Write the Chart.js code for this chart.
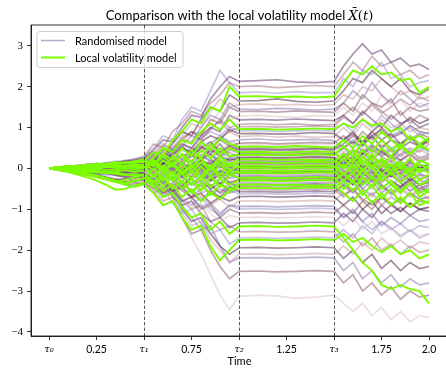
<!DOCTYPE html>
<html><head><meta charset="utf-8">
<script src="https://cdn.jsdelivr.net/npm/chart.js@4/dist/chart.umd.min.js"></script>
<style>html,body{margin:0;padding:0;overflow:hidden;background:#fff}#wrap{width:452px;height:369px;position:relative}</style>
</head><body><div id="wrap"><canvas id="c"></canvas></div>
<script>
const times = [0,.05,.1,.15,.2,.25,.3,.35,.4,.45,.5,.55,.6,.65,.7,.75,.8,.85,.9,.95,1,1.1,1.2,1.3,1.4,1.5,1.55,1.6,1.65,1.7,1.75,1.8,1.85,1.9,1.95,2];
const xTickValues = [0,0.25,0.5,0.75,1,1.25,1.5,1.75,2];
const xTickLabels = ['τ₀','0.25','τ₁','0.75','τ₂','1.25','τ₃','1.75','2.0'];
const yTickValues = [-4,-3,-2,-1,0,1,2,3];
const yTickLabels = ['−4','−3','−2','−1','0','1','2','3'];
const markerTimes = [0.5,1.0,1.5];

const randomisedPaths = [
[0,.03,.06,.05,.1,.12,.1,.15,.18,.2,.25,.45,.7,.65,1,1.3,1.25,1.7,2,2.25,2.13,2.15,2.17,2.12,2.1,2.13,2.5,2.8,3.05,2.8,2.9,2.6,2.7,2.5,2.55,2.42],
[0,-.02,.04,.08,.06,.1,.14,.12,.2,.22,.3,.6,.5,.9,1.1,1.4,1.3,1.6,1.8,2.1,2,2.02,1.98,2,2.03,2,2.3,2.6,2.4,2.75,2.5,2.6,2.3,2.4,2.2,2.3],
[0,.04,.02,.07,.1,.08,.14,.18,.16,.24,.28,.5,.8,.7,1.2,1.5,1.4,1.9,2.4,2.1,1.85,1.87,1.84,1.88,1.85,1.86,2.2,2,2.4,2.3,2.6,2.2,2.3,2,2.1,2.15],
[0,.02,-.03,.04,.08,.05,.1,.08,.12,.18,.2,.4,.3,.6,.9,.8,1.2,1.5,1.4,1.8,1.65,1.66,1.7,1.64,1.62,1.65,1.9,2.2,2.1,2.4,2.2,2,2.2,1.9,1.8,1.95],
[0,.03,.05,.02,.06,.1,.07,.12,.15,.13,.18,.3,.55,.5,.8,1.1,1,1.4,1.7,1.5,1.56,1.58,1.55,1.57,1.54,1.56,1.8,1.7,2,1.9,2.2,2,1.8,1.9,1.7,1.75],
[0,-.03,.01,.05,.03,.08,.1,.06,.11,.14,.16,.35,.2,.5,.7,.65,1,1.3,1.2,1.6,1.45,1.44,1.47,1.46,1.43,1.45,1.6,1.9,1.7,2.1,1.8,1.6,1.9,1.7,1.5,1.6],
[0,.02,.04,.01,.05,.07,.04,.09,.12,.1,.14,.2,.45,.4,.7,.9,.8,1.2,1.1,1.5,1.39,1.4,1.38,1.41,1.39,1.37,1.6,1.4,1.8,1.6,1.5,1.7,1.3,1.5,1.4,1.45],
[0,-.02,.02,0,.04,.07,.05,.1,.08,.13,.12,.3,.5,.35,.6,.9,.85,1.1,1.4,1.2,1.28,1.3,1.27,1.25,1.29,1.28,1.5,1.3,1.6,1.4,1.8,1.5,1.7,1.4,1.6,1.5],
[0,.03,.01,.05,.04,.08,.06,.1,.09,.07,.11,.25,.15,.4,.6,.5,.8,1,.9,1.3,1.19,1.2,1.18,1.21,1.19,1.17,1.3,1.1,1.4,1.2,1,1.3,1.1,1.2,1,1.1],
[0,.01,-.03,.02,.05,.03,.07,.05,.1,.12,.1,.2,.4,.3,.55,.8,.7,.95,1.2,1,1.08,1.1,1.07,1.09,1.06,1.08,1.3,1.5,1.3,1.6,1.4,1.2,1.4,1.1,1.3,1.2],
[0,.02,.05,.03,.07,.05,.09,.12,.1,.14,.15,.3,.2,.45,.6,.5,.75,.9,.8,1,.92,.93,.9,.92,.94,.91,1.1,.9,1.2,1,1.3,1.1,.9,1,.8,.9],
[0,-.02,.01,-.01,.03,.06,.04,.02,.06,.09,.08,.2,.1,.35,.5,.4,.65,.8,.7,.95,.85,.86,.84,.85,.88,.85,.7,.9,.6,.8,.5,.7,.6,.8,.6,.7],
[0,.02,0,.04,.02,.06,.03,.07,.05,.09,.06,.15,.3,.2,.45,.4,.6,.5,.75,.9,.78,.8,.77,.79,.76,.78,1,.8,1.1,.9,1.2,1,1.1,.9,1,.95],
[0,-.01,.03,.01,.05,.02,.06,.04,.08,.05,.07,.2,.1,.3,.25,.5,.4,.6,.8,.65,.7,.72,.69,.7,.71,.68,.5,.7,.4,.6,.35,.5,.3,.45,.25,.35],
[0,.02,-.02,.02,0,.04,.02,.06,.03,.07,.05,.1,.25,.15,.35,.3,.5,.45,.7,.55,.62,.63,.6,.62,.64,.62,.8,.6,.9,.7,1,.8,.9,.7,.85,.75],
[0,.01,.03,0,.04,.02,.05,.03,.06,.04,.08,.15,.05,.25,.2,.4,.3,.5,.45,.6,.52,.53,.5,.52,.54,.51,.3,.5,.2,.4,.1,.3,.15,.35,.2,.25],
[0,-.03,-.01,-.04,-.02,-.05,-.01,-.04,0,-.02,.02,.1,0,.2,.1,.3,.25,.45,.35,.5,.45,.46,.44,.45,.47,.45,.6,.8,.6,.9,.7,.85,.6,.75,.55,.65],
[0,.02,.04,.02,.05,.03,.07,.05,.09,.06,.1,.2,.05,.25,.15,.35,.2,.45,.3,.45,.38,.39,.37,.4,.38,.36,.2,.4,.1,.3,0,.2,-.1,.1,-.05,.05],
[0,-.02,0,-.03,.01,-.01,.02,0,.04,.02,.03,-.05,.1,0,.2,.15,.3,.2,.4,.25,.32,.33,.31,.32,.34,.32,.5,.3,.6,.4,.7,.5,.6,.4,.5,.45],
[0,.03,.01,.05,.03,.07,.04,.08,.05,.1,.07,.15,0,.1,-.05,.1,.2,.1,.3,.2,.27,.28,.26,.27,.29,.27,.1,.3,0,.2,-.1,.1,-.05,.15,0,.1],
[0,-.01,.02,0,.03,.01,.04,.02,.05,.03,.06,-.05,.1,-.1,.05,0,.15,.05,.25,.15,.22,.23,.21,.22,.24,.22,.4,.2,.5,.3,.6,.4,.5,.3,.45,.35],
[0,.02,-.01,.03,.01,.04,0,.03,.01,.05,.02,.1,-.05,.05,-.1,.1,0,.2,.1,.25,.17,.18,.16,.17,.19,.17,0,.2,-.1,.1,-.2,0,-.15,.05,-.1,0],
[0,-.02,-.04,-.01,-.03,0,-.02,.01,-.01,.02,0,.1,-.05,.05,.15,0,.1,-.05,.2,.05,.12,.13,.11,.12,.14,.12,.3,.1,.4,.2,.45,.3,.2,.35,.15,.25],
[0,.01,.03,.01,.04,.02,0,.03,.01,.04,.02,-.1,.05,-.05,.1,0,-.1,.05,-.05,.15,.08,.09,.07,.08,.1,.08,-.1,.1,-.2,0,-.3,-.1,-.25,-.05,-.2,-.15],
[0,-.02,0,-.03,-.01,-.04,-.02,-.05,-.03,-.01,-.04,.05,-.1,0,-.15,-.05,.1,-.05,.05,-.05,.04,.05,.03,.04,.06,.04,.2,0,.3,.1,.2,0,.15,-.05,.1,0],
[0,.02,0,.03,.05,.02,.04,.06,.03,.05,.08,-.05,.1,-.05,.05,-.1,.05,-.05,.1,-.05,0,.01,-.01,0,.02,0,-.2,0,-.3,-.1,-.35,-.15,-.3,-.1,-.25,-.2],
[0,-.01,.01,-.02,0,-.03,-.01,-.04,-.02,0,-.03,.1,-.05,.05,-.1,0,-.15,-.05,.05,-.1,-.05,-.04,-.06,-.05,-.03,-.05,.15,-.05,.2,0,.25,.05,.2,0,.1,.05],
[0,.02,.04,.02,.06,.04,.07,.05,.09,.07,.11,0,.15,-.05,.1,-.1,0,-.2,-.05,-.15,-.1,-.09,-.11,-.1,-.08,-.1,-.3,-.1,-.4,-.2,-.5,-.3,-.45,-.25,-.4,-.35],
[0,-.03,-.01,-.04,-.02,-.06,-.03,-.07,-.05,-.08,-.05,-.15,0,-.1,.05,-.1,-.2,-.05,-.25,-.1,-.15,-.14,-.16,-.15,-.13,-.15,0,-.2,.1,-.1,.15,-.05,.1,-.1,0,-.05],
[0,.01,-.02,0,-.03,-.01,-.04,-.02,-.05,-.03,-.06,.05,-.1,0,-.2,-.1,-.3,-.15,-.05,-.25,-.2,-.19,-.21,-.2,-.18,-.2,-.4,-.2,-.5,-.3,-.6,-.4,-.5,-.35,-.55,-.45],
[0,-.02,0,-.02,.01,-.01,.02,0,.03,.01,.04,-.1,.05,-.15,-.05,-.25,-.1,-.3,-.15,-.35,-.26,-.25,-.27,-.26,-.24,-.26,-.1,-.3,0,-.2,.1,-.1,.05,-.15,0,-.1],
[0,.02,.01,.04,.02,.05,.03,.01,.04,.02,.05,-.1,-.2,-.05,-.25,-.15,-.35,-.2,-.45,-.3,-.33,-.32,-.34,-.33,-.31,-.33,-.5,-.3,-.6,-.45,-.7,-.5,-.65,-.4,-.6,-.5],
[0,-.02,-.05,-.03,-.07,-.05,-.09,-.07,-.1,-.08,-.12,-.25,-.1,-.3,-.2,-.4,-.3,-.5,-.35,-.55,-.4,-.39,-.41,-.4,-.38,-.4,-.2,-.4,-.1,-.3,0,-.2,-.1,-.3,-.15,-.2],
[0,-.03,-.06,-.04,-.09,-.12,-.1,-.15,-.2,-.18,-.22,-.35,-.2,-.45,-.3,-.55,-.4,-.65,-.5,-.6,-.52,-.51,-.53,-.52,-.5,-.52,-.7,-.5,-.8,-.6,-.9,-.7,-.85,-.6,-.75,-.7],
[0,-.02,-.05,-.08,-.06,-.11,-.15,-.13,-.18,-.22,-.2,-.1,-.3,-.2,-.45,-.35,-.6,-.5,-.75,-.55,-.62,-.61,-.63,-.62,-.6,-.62,-.4,-.6,-.3,-.5,-.2,-.4,-.25,-.45,-.3,-.35],
[0,-.04,-.08,-.13,-.11,-.17,-.22,-.28,-.25,-.3,-.26,-.4,-.3,-.55,-.45,-.7,-.6,-.85,-.7,-.8,-.69,-.68,-.7,-.69,-.67,-.69,-.9,-.7,-1,-.8,-1.1,-.9,-1.05,-.85,-1,-.95],
[0,-.03,-.07,-.12,-.18,-.15,-.22,-.3,-.36,-.33,-.38,-.5,-.35,-.6,-.5,-.75,-.65,-.9,-.75,-.95,-.8,-.79,-.81,-.8,-.78,-.8,-.6,-.8,-.5,-.7,-.4,-.6,-.45,-.65,-.5,-.55],
[0,-.02,-.06,-.1,-.15,-.2,-.26,-.32,-.4,-.38,-.34,-.5,-.65,-.55,-.8,-.7,-.95,-.85,-1.1,-.9,-.93,-.92,-.94,-.93,-.91,-.93,-1.2,-1,-1.3,-1.1,-1.4,-1.2,-1.35,-1.15,-1.3,-1.25],
[0,-.03,-.05,-.09,-.14,-.19,-.24,-.3,-.34,-.3,-.28,-.45,-.6,-.5,-.8,-.7,-1,-.9,-1.2,-1,-1.09,-1.08,-1.1,-1.09,-1.07,-1.09,-.9,-1.1,-.8,-1,-.7,-.9,-.75,-.95,-.8,-.85],
[0,-.01,-.04,-.07,-.05,-.1,-.14,-.12,-.17,-.21,-.18,-.4,-.6,-.5,-.8,-.95,-.85,-1.1,-1.3,-1.15,-1.2,-1.19,-1.21,-1.2,-1.18,-1.2,-1.4,-1.2,-1.5,-1.3,-1.6,-1.45,-1.7,-1.5,-1.65,-1.6],
[0,-.02,-.06,-.04,-.09,-.13,-.1,-.16,-.2,-.24,-.2,-.45,-.35,-.7,-.9,-.8,-1.1,-1.3,-1.2,-1.45,-1.33,-1.32,-1.34,-1.33,-1.31,-1.33,-1.1,-1.3,-1,-1.2,-.9,-1.1,-.95,-1.15,-1,-1.05],
[0,-.03,-.01,-.05,-.08,-.06,-.11,-.15,-.12,-.17,-.14,-.35,-.55,-.45,-.8,-1,-.9,-1.3,-1.5,-1.4,-1.55,-1.54,-1.56,-1.55,-1.53,-1.55,-1.8,-1.6,-1.9,-1.7,-2,-1.85,-2.1,-1.9,-2.05,-2],
[0,-.02,-.05,-.09,-.13,-.18,-.24,-.3,-.37,-.43,-.4,-.6,-.5,-.85,-1.1,-1,-1.35,-1.6,-1.5,-1.85,-1.7,-1.69,-1.71,-1.7,-1.68,-1.7,-1.5,-1.7,-1.4,-1.6,-1.3,-1.5,-1.35,-1.55,-1.4,-1.45],
[0,-.01,-.04,-.02,-.06,-.1,-.08,-.13,-.17,-.15,-.2,-.4,-.7,-.6,-1,-1.3,-1.2,-1.6,-1.9,-2.1,-1.94,-1.93,-1.95,-1.94,-1.92,-1.94,-2.2,-2,-2.3,-2.1,-2.45,-2.25,-2.5,-2.3,-2.45,-2.4],
[0,-.03,-.07,-.11,-.16,-.21,-.27,-.33,-.38,-.35,-.3,-.55,-.8,-.7,-1.1,-1.4,-1.3,-1.75,-2,-2.3,-2.1,-2.09,-2.11,-2.1,-2.08,-2.1,-1.9,-2.1,-1.8,-2,-1.7,-1.9,-1.75,-1.95,-1.8,-1.85],
[0,-.02,0,-.03,-.06,-.04,-.08,-.11,-.09,-.13,-.1,-.3,-.6,-.5,-.9,-1.2,-1.5,-1.4,-1.9,-2.3,-2.19,-2.18,-2.2,-2.19,-2.17,-2.19,-2.5,-2.3,-2.7,-2.5,-2.8,-2.6,-2.9,-2.7,-2.85,-2.8],
[0,-.02,-.05,-.08,-.12,-.16,-.21,-.26,-.31,-.35,-.38,-.6,-.9,-.8,-1.2,-1.6,-1.5,-2,-2.4,-2.7,-2.52,-2.51,-2.53,-2.52,-2.5,-2.52,-2.8,-2.6,-3,-2.8,-3.1,-2.9,-3.2,-3,-3.15,-3.1],
[0,-.01,-.04,-.02,-.05,-.09,-.07,-.11,-.14,-.12,-.16,-.4,-.8,-.7,-1.2,-1.7,-2.1,-2.6,-3.1,-3.45,-3.13,-3.1,-3.12,-3.18,-3.15,-3.1,-3.3,-3.5,-3.3,-3.6,-3.4,-3.7,-3.5,-3.75,-3.6,-3.65],
[0,.02,.05,.04,.08,.11,.09,.13,.16,.19,.22,.1,.3,.45,.2,.4,.55,.35,.6,.3,.35,.36,.34,.35,.37,.35,.5,.65,.55,.8,.95,.75,.85,1.05,.9,.85],
[0,-.03,-.02,-.06,-.04,-.08,-.06,-.03,-.07,-.04,-.01,-.15,.05,.15,-.05,.2,.35,.15,.3,.4,.25,.26,.24,.25,.27,.25,.1,.05,.25,.45,.3,.15,.35,.5,.4,.6],
[0,.01,.04,.03,.06,.04,.08,.1,.07,.11,.13,.25,.1,.2,-.05,.1,.3,.2,.05,.25,.19,.2,.18,.19,.21,.19,-.05,-.15,.05,-.1,-.25,-.1,-.35,-.2,-.1,-.3],
[0,-.02,.01,.03,0,-.03,-.01,.02,-.02,-.05,-.02,.1,.25,.05,-.1,.05,.2,.35,.15,.05,.14,.15,.13,.14,.16,.14,.3,.45,.35,.55,.4,.25,.5,.65,.55,.7],
[0,.02,.03,.06,.04,.02,.05,.08,.05,.07,.04,-.05,-.2,0,.1,-.1,-.05,.15,0,.2,.1,.11,.09,.1,.12,.1,-.1,.05,-.2,-.35,-.15,-.3,-.45,-.3,-.5,-.4],
[0,-.01,-.04,-.02,-.05,-.08,-.06,-.03,-.06,-.09,-.07,.05,-.1,-.25,-.05,.1,-.1,.05,.2,0,.06,.07,.05,.06,.08,.06,.25,.1,.35,.5,.3,.45,.2,.35,.55,.4],
[0,.02,0,.03,.06,.09,.07,.05,.08,.11,.09,.2,0,.15,-.05,-.2,.05,-.1,.1,-.1,.02,.03,.01,.02,.04,.02,-.2,-.05,.1,-.1,-.3,-.15,0,-.2,-.4,-.25],
[0,-.02,-.05,-.03,-.06,-.04,-.07,-.1,-.08,-.05,-.08,-.2,0,-.15,.1,-.05,.15,-.1,-.25,-.05,-.02,-.01,-.03,-.02,0,-.02,.15,.3,.1,.25,.45,.2,.35,.15,.3,.2],
[0,.01,.03,.05,.03,.06,.04,.07,.09,.06,.08,-.1,.1,-.05,-.2,.05,-.15,-.3,-.1,.05,-.08,-.07,-.09,-.08,-.06,-.08,-.25,-.4,-.2,-.05,-.3,-.15,-.35,-.55,-.4,-.6],
[0,-.02,0,-.03,-.05,-.02,-.06,-.04,-.01,-.05,-.03,.1,-.1,.05,-.15,0,.15,-.05,-.2,-.05,-.12,-.11,-.13,-.12,-.1,-.12,.05,-.1,.1,.3,.15,0,.2,.35,.2,.3],
[0,.02,.05,.03,.07,.1,.08,.11,.14,.12,.09,-.05,-.2,0,-.25,-.1,.05,-.15,-.35,-.2,-.18,-.17,-.19,-.18,-.16,-.18,-.35,-.2,-.5,-.65,-.45,-.6,-.8,-.6,-.75,-.7],
[0,-.03,-.06,-.04,-.08,-.11,-.09,-.13,-.1,-.14,-.11,-.3,-.1,-.25,-.45,-.2,-.05,-.25,-.4,-.15,-.23,-.22,-.24,-.23,-.21,-.23,-.05,-.2,0,.15,-.05,-.2,.05,.2,0,.1],
[0,.01,-.01,.02,-.01,-.04,-.02,-.05,-.03,-.06,-.04,-.2,0,-.2,-.4,-.25,-.45,-.3,-.1,-.35,-.29,-.28,-.3,-.29,-.27,-.29,-.45,-.6,-.4,-.25,-.45,-.65,-.5,-.7,-.55,-.75],
[0,-.01,-.03,-.06,-.09,-.07,-.11,-.14,-.18,-.15,-.19,-.35,-.15,-.3,-.5,-.35,-.2,-.4,-.6,-.45,-.36,-.35,-.37,-.36,-.34,-.36,-.2,-.35,-.15,0,-.2,-.05,-.25,-.1,.05,-.05],
[0,.02,0,-.02,-.05,-.03,-.07,-.1,-.08,-.12,-.15,-.3,-.5,-.35,-.55,-.7,-.5,-.4,-.6,-.35,-.45,-.44,-.46,-.45,-.43,-.45,-.65,-.5,-.75,-.9,-.7,-.85,-1.05,-.85,-1,-.95],
[0,.01,.04,.07,.05,.09,.12,.15,.13,.17,.21,.35,.2,.4,.6,.45,.7,.5,.75,.65,.58,.59,.57,.58,.6,.58,.4,.55,.35,.2,.4,.25,.45,.3,.15,.3],
[0,-.03,-.07,-.05,-.1,-.14,-.12,-.17,-.21,-.19,-.24,-.4,-.25,-.5,-.35,-.6,-.8,-.55,-.7,-.45,-.57,-.56,-.58,-.57,-.55,-.57,-.4,-.55,-.35,-.2,-.4,-.6,-.45,-.3,-.5,-.4],
[0,.03,.06,.04,.08,.06,.1,.13,.11,.15,.18,.35,.6,.45,.75,.9,.7,1,1.15,.9,1.02,1.03,1.01,1.02,1.04,1.02,1.25,1.1,1.35,1.55,1.35,1.5,1.7,1.55,1.75,1.65],
[0,-.02,-.05,-.09,-.07,-.12,-.16,-.14,-.19,-.23,-.2,-.4,-.6,-.45,-.75,-.9,-.7,-1,-1.15,-.9,-.99,-.98,-1,-.99,-.97,-.99,-1.2,-1.05,-1.3,-1.5,-1.3,-1.45,-1.65,-1.5,-1.7,-1.6],
[0,-.02,.01,.04,.02,.05,.08,.06,.1,.13,.11,.3,.1,.35,.55,.3,.5,.65,.4,.55,.48,.49,.47,.48,.5,.48,.7,.85,.65,.9,1.1,.9,1.05,1.25,1.1,1.2]
];

const localVolPaths = [
[0,.02,.05,.03,.07,.1,.08,.12,.15,.13,.18,.4,.3,.7,.9,1.2,1.1,1.5,1.4,2,1.76,1.77,1.75,1.76,1.74,1.76,2.1,2.4,2.3,2.5,2.3,2.35,2.15,2.2,1.85,2],
[0,.03,.01,.05,.03,.07,.05,.09,.06,.1,.08,.25,.5,.4,.7,.6,.9,1.1,.95,1.2,.96,.97,.95,.96,.98,.96,1.1,1,1.2,1.05,1.1,.9,1,.7,.8,.65],
[0,.04,.02,.06,.09,.07,.11,.14,.12,.16,.2,.1,.35,.2,.5,.3,.65,.45,.75,.6,.53,.54,.52,.55,.53,.51,.7,.5,.8,.6,.9,.7,.5,.8,.6,.75],
[0,-.02,.01,-.01,.03,0,.04,.02,.06,.03,.07,.2,0,.3,.1,.45,.25,.6,.35,.5,.4,.41,.39,.4,.42,.4,.2,.45,.1,.35,.05,.3,0,.25,-.1,.1],
[0,.02,.04,.07,.05,.09,.12,.1,.14,.17,.15,-.05,.2,.05,.35,.15,.45,.25,.5,.3,.33,.34,.32,.33,.35,.33,.55,.3,.65,.4,.7,.45,.6,.35,.55,.45],
[0,-.03,-.06,-.04,-.08,-.05,-.1,-.07,-.04,-.08,-.05,.15,-.1,.1,-.15,.05,.25,0,.3,.1,.22,.23,.21,.22,.2,.22,0,.25,-.05,.2,-.15,.1,-.2,0,-.3,-.15],
[0,.03,.06,.04,.08,.12,.1,.15,.13,.18,.22,.05,.3,.1,.35,0,.25,-.05,.2,.05,.14,.15,.13,.14,.16,.14,.35,.15,.45,.2,.5,.3,.55,.35,.6,.45],
[0,-.02,0,.03,.01,.05,.02,.06,.04,.08,.05,-.2,.05,-.15,.1,-.1,.15,-.05,.2,-.05,.06,.07,.05,.06,.08,.06,-.15,.1,-.2,.05,-.3,-.1,-.35,-.15,-.4,-.3],
[0,.02,-.01,.01,-.03,0,-.04,-.02,.01,-.02,0,.2,-.05,.15,-.1,.1,-.2,.05,-.15,.1,.01,.02,0,.01,.03,.01,.25,0,.3,.05,.2,-.05,.15,-.1,.2,.1],
[0,-.03,-.07,-.11,-.16,-.22,-.27,-.33,-.28,-.22,-.15,-.35,-.1,-.3,0,-.25,.05,-.2,.1,-.15,-.06,-.05,-.07,-.06,-.04,-.06,-.3,-.1,-.4,-.2,-.5,-.3,-.55,-.35,-.6,-.5],
[0,-.02,-.05,-.09,-.14,-.2,-.26,-.33,-.38,-.3,-.24,0,-.3,-.1,-.35,-.05,-.3,.05,-.25,-.05,-.11,-.1,-.12,-.11,-.09,-.11,.1,-.1,.2,0,.25,.05,.15,-.05,.1,0],
[0,-.04,-.09,-.15,-.22,-.3,-.4,-.52,-.5,-.42,-.35,-.15,-.45,-.2,-.5,-.25,-.55,-.2,-.45,-.15,-.23,-.22,-.24,-.23,-.21,-.23,-.5,-.3,-.65,-.4,-.75,-.5,-.85,-.6,-.9,-.8],
[0,.01,.03,0,.04,.02,.05,.03,.06,.04,.02,-.2,.05,-.3,-.1,-.4,-.2,-.45,-.25,-.4,-.3,-.29,-.31,-.3,-.28,-.3,-.1,-.35,0,-.25,.1,-.15,.05,-.2,0,-.1],
[0,-.02,-.05,-.08,-.12,-.17,-.23,-.3,-.36,-.3,-.25,-.45,-.2,-.5,-.3,-.6,-.35,-.65,-.4,-.5,-.4,-.39,-.41,-.4,-.42,-.4,-.6,-.8,-.55,-.85,-.6,-.9,-.7,-.95,-.75,-.85],
[0,-.01,-.03,-.06,-.04,-.08,-.12,-.1,-.14,-.18,-.15,-.3,-.55,-.4,-.7,-.5,-.8,-.6,-.75,-.55,-.48,-.47,-.49,-.48,-.46,-.48,-.3,-.55,-.2,-.45,-.15,-.4,-.6,-.35,-.7,-.55],
[0,-.02,-.05,-.03,-.07,-.1,-.08,-.13,-.16,-.14,-.18,-.4,-.7,-.6,-.95,-1.2,-1.1,-1.5,-1.3,-1.6,-1.42,-1.41,-1.43,-1.42,-1.4,-1.42,-1.7,-2,-2.3,-2.5,-2.85,-2.95,-2.85,-2.95,-3,-3.3],
[0,-.03,-.06,-.1,-.14,-.19,-.25,-.32,-.4,-.45,-.38,-.6,-.9,-.8,-1.2,-1.5,-1.4,-1.9,-2.25,-2,-1.75,-1.74,-1.76,-1.75,-1.73,-1.75,-1.6,-1.8,-1.7,-1.9,-2.05,-1.9,-2.1,-2,-2.2,-2.1]
];

const palette = ['rgba(100,60,110,0.55)','rgba(160,110,125,0.5)','rgba(150,140,200,0.5)','rgba(85,45,75,0.55)','rgba(190,140,140,0.45)','rgba(125,110,165,0.5)','rgba(130,75,90,0.5)','rgba(215,185,185,0.45)'];
const GREEN = '#7CFC00';

const toPts = p => p.map((v,j)=>({x:times[j], y:v}));
const datasets = [];
randomisedPaths.forEach((p,i)=>datasets.push({label:'Randomised model', data:toPts(p), borderColor:palette[i%palette.length], borderWidth:1.7, order:1}));
localVolPaths.forEach(p=>datasets.push({label:'Local volatility model', data:toPts(p), borderColor:GREEN, borderWidth:1.9, order:0}));

const framePlugin = {
  id:'frame',
  afterDatasetsDraw(chart){
    const {ctx, chartArea:a, scales:{x}} = chart;
    ctx.save();
    ctx.strokeStyle='#333'; ctx.lineWidth=0.8; ctx.setLineDash([3.5,2]);
    markerTimes.forEach(t=>{const px=Math.round(x.getPixelForValue(t))+0.5; ctx.beginPath(); ctx.moveTo(px,a.top); ctx.lineTo(px,a.bottom); ctx.stroke();});
    ctx.setLineDash([]);
    ctx.strokeStyle='#000'; ctx.lineWidth=0.8;
    ctx.strokeRect(a.left, a.top, a.right-a.left, a.bottom-a.top);
    ctx.restore();
  },
  afterDraw(chart){
    const {ctx, chartArea:a} = chart;
    ctx.save();
    const bx=37, by=31.5, bw=146, bh=36;
    ctx.beginPath();
    if (ctx.roundRect) ctx.roundRect(bx,by,bw,bh,3); else ctx.rect(bx,by,bw,bh);
    ctx.fillStyle='rgba(255,255,255,0.8)'; ctx.fill();
    ctx.strokeStyle='#cccccc'; ctx.lineWidth=1; ctx.stroke();
    ctx.lineWidth=1.5; ctx.strokeStyle='rgba(175,160,205,0.9)';
    ctx.beginPath(); ctx.moveTo(41,40.5); ctx.lineTo(65,40.5); ctx.stroke();
    ctx.lineWidth=2; ctx.strokeStyle=GREEN;
    ctx.beginPath(); ctx.moveTo(41,57.5); ctx.lineTo(65,57.5); ctx.stroke();
    ctx.fillStyle='#000'; ctx.font='11px Lato'; ctx.textBaseline='middle'; ctx.textAlign='left';
    ctx.fillText('Randomised model',75,41);
    ctx.fillText('Local volatility model',75,58);
    const segs=[{t:'Comparison with the local volatility model ',f:'13px Lato'},{t:'X\u0304',f:'italic 13px "DejaVu Serif"'},{t:'(',f:'13px "DejaVu Serif"'},{t:'t',f:'italic 13px "DejaVu Serif"'},{t:')',f:'13px "DejaVu Serif"'}];
    let total=0; segs.forEach(s=>{ctx.font=s.f; s.w=ctx.measureText(s.t).width; total+=s.w;});
    let cx=(a.left+a.right)/2 - total/2;
    ctx.textBaseline='alphabetic';
    segs.forEach(s=>{ctx.font=s.f; ctx.fillText(s.t,cx,19.5); cx+=s.w;});
    ctx.restore();
  }
};

const tauIdx = [0,2,4,6];
new Chart(document.getElementById('c'), {
  type:'line',
  data:{datasets},
  options:{
    responsive:true, maintainAspectRatio:false, animation:false,
    layout:{padding:{top:25,right:4,left:0,bottom:0}},
    plugins:{legend:{display:false}, tooltip:{enabled:false}, title:{display:false}},
    elements:{point:{radius:0}, line:{tension:0, fill:false}},
    scales:{
      x:{type:'linear', min:-0.095, max:2.1,
        afterBuildTicks:s=>{s.ticks=xTickValues.map(v=>({value:v}));},
        afterFit:s=>{s.height=33;},
        grid:{display:true, drawOnChartArea:false, drawTicks:true, tickLength:4, color:'#000', lineWidth:0.8},
        border:{display:true, color:'#000', width:0.8},
        ticks:{autoSkip:false, maxRotation:0, padding:3, color:'#000',
          callback:(v,i)=>xTickLabels[i],
          font:ctx=>tauIdx.includes(ctx.index)?{family:'DejaVu Serif', style:'italic', size:10}:{family:'Lato', size:10.5}},
        title:{display:true, text:'Time', color:'#000', font:{family:'Lato', size:11}, padding:{top:0,bottom:1}}
      },
      y:{type:'linear', min:-4.1, max:3.51,
        afterBuildTicks:s=>{s.ticks=yTickValues.map(v=>({value:v}));},
        afterFit:s=>{s.width=31;},
        grid:{display:true, drawOnChartArea:false, drawTicks:true, tickLength:4, color:'#000', lineWidth:0.8},
        border:{display:true, color:'#000', width:0.8},
        ticks:{autoSkip:false, padding:4, color:'#000',
          callback:(v,i)=>yTickLabels[i],
          font:{family:'Liberation Serif', size:11}}
      }
    }
  },
  plugins:[framePlugin]
});
</script>
</body></html>
